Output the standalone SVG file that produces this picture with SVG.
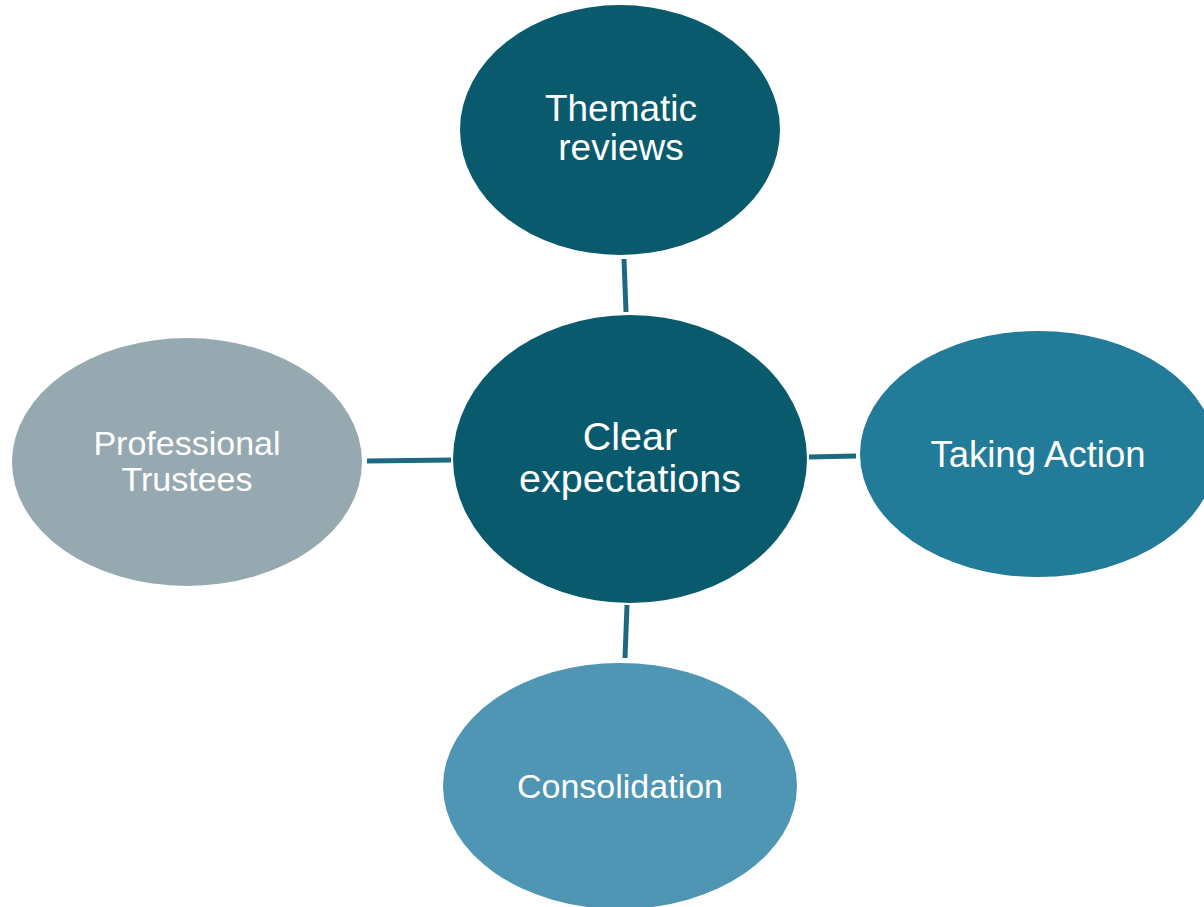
<svg xmlns="http://www.w3.org/2000/svg" width="1204" height="907" viewBox="0 0 1204 907">
<style>
.lbl{font-family:"Liberation Sans",Arial,sans-serif;fill:#ffffff;text-anchor:middle}
.conn{stroke:#1D6A80;stroke-width:5;fill:none}
</style>
<rect width="1204" height="907" fill="#ffffff"/>
<g id="connectors">
<line class="conn" x1="624" y1="259" x2="626" y2="312"/>
<line class="conn" x1="367" y1="461" x2="451" y2="460"/>
<line class="conn" x1="809" y1="457" x2="856" y2="456"/>
<line class="conn" x1="627" y1="605" x2="625" y2="658"/>
</g>
<g id="node-top">
<ellipse cx="620" cy="130" rx="160" ry="125" fill="#085A6C"/>
<text class="lbl" x="621" y="121" font-size="37">Thematic</text>
<text class="lbl" x="621" y="160" font-size="37">reviews</text>
</g>
<g id="node-center">
<ellipse cx="630" cy="459" rx="177" ry="144" fill="#085A6C"/>
<text class="lbl" x="630" y="450" font-size="39.5">Clear</text>
<text class="lbl" x="630" y="492" font-size="39.5">expectations</text>
</g>
<g id="node-right">
<ellipse cx="1038" cy="454" rx="178" ry="123" fill="#227C99"/>
<text class="lbl" x="1038" y="467" font-size="36.5">Taking Action</text>
</g>
<g id="node-bottom">
<ellipse cx="620" cy="786" rx="177" ry="123" fill="#4E96B3"/>
<text class="lbl" x="620" y="798" font-size="34">Consolidation</text>
</g>
<g id="node-left">
<ellipse cx="187" cy="462" rx="175" ry="124" fill="#97A9B0"/>
<text class="lbl" x="187" y="455" font-size="34">Professional</text>
<text class="lbl" x="187" y="491" font-size="34">Trustees</text>
</g>
</svg>
